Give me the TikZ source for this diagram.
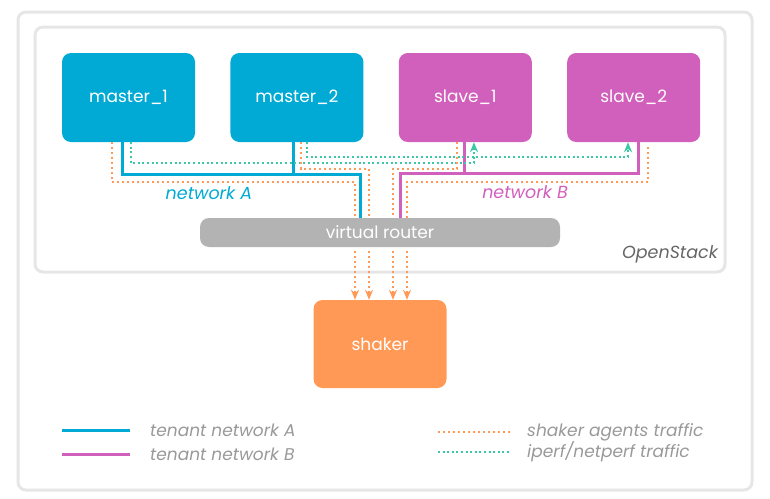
\documentclass[tikz,border=0pt]{standalone}
\usepackage{fontspec}
\setmainfont{Poppins}
\usepackage{tikz}
\usetikzlibrary{
    arrows.meta,    % arrow tips
    positioning     % relative placement
}

\definecolor{netblue}{HTML}{00AAD4}
\definecolor{netpink}{HTML}{D15FBC}
\definecolor{agentorange}{HTML}{FF9955}
\definecolor{iperfteal}{HTML}{3CC8A5}
\definecolor{framegray}{HTML}{E6E6E6}
\definecolor{routergray}{HTML}{B3B3B3}
\definecolor{legendgray}{HTML}{999999}
\definecolor{stackgray}{HTML}{666666}

\begin{document}
\begin{tikzpicture}[
    x=1pt, y=-1pt,
    >={Stealth[length=10pt,width=8pt]},
    vm/.style={minimum width=133pt, minimum height=89pt, rounded corners=9pt,
        inner sep=0pt, text=white, font=\fontsize{17}{20}\selectfont},
    netA/.style={netblue, line width=3pt},
    netB/.style={netpink, line width=3pt},
    agent/.style={agentorange, line width=2pt, dash pattern=on 2pt off 3pt},
    iperf/.style={iperfteal, line width=2pt, dash pattern=on 2pt off 2.6pt},
    legendtext/.style={anchor=west, inner sep=0pt, text=legendgray,
        font=\fontsize{17}{20}\selectfont\itshape},
    netlabel/.style={font=\fontsize{17.5}{20}\selectfont\itshape, inner sep=0pt}
]
    \useasboundingbox (0,0) rectangle (770,498);

    % rahmen
    \draw[framegray, line width=3pt, rounded corners=8pt] (18,12) rectangle (752,490);
    \draw[framegray, line width=3pt, rounded corners=8pt] (35,27) rectangle (725,272);
    \node[anchor=east, inner sep=0pt, text=stackgray,
        font=\fontsize{17.5}{20}\selectfont\itshape] (stack) at (718,254) {OpenStack};

    % VMs
    \node[vm, fill=netblue] (m1) at (128.5,97.5) {master\_1};
    \node[vm, fill=netblue, right=35pt of m1] (m2) {master\_2};
    \node[vm, fill=netpink, right=35pt of m2] (s1) {slave\_1};
    \node[vm, fill=netpink, right=35pt of s1] (s2) {slave\_2};

    % router und shaker
    \node[fill=routergray, rounded corners=9pt, minimum width=360pt, minimum height=29pt,
        inner sep=0pt, text=white, font=\fontsize{17}{20}\selectfont] (router) at (380,232.5) {virtual router};
    \node[vm, fill=agentorange, minimum height=88pt] (shaker) at (380,344) {shaker};

    % network A
    \coordinate (a1) at (122,174);
    \coordinate (a2) at (293,174);
    \coordinate (a3) at (360,174);
    \draw[netA] (m1.south -| a1) -- (a1) -- (a3) -- (router.north -| a3);
    \draw[netA] (m2.south -| a2) -- (a2);
    \node[netlabel, text=netblue] (labA) at (209,193) {network A};

    % network B
    \coordinate (b1) at (400,173);
    \coordinate (b2) at (464,173);
    \coordinate (b3) at (638,173);
    \draw[netB] (router.north -| b1) -- (b1) -- (b3) -- (s2.south -| b3);
    \draw[netB] (s1.south -| b2) -- (b2);
    \node[netlabel, text=netpink] (labB) at (525,192) {network B};

    % iperf verkehr
    \coordinate (t1) at (131,163);
    \coordinate (t1r) at (474,163);
    \coordinate (t2) at (307,157);
    \coordinate (t2r) at (628,157);
    \draw[iperf, ->] (m1.south -| t1) -- (t1) -- (t1r) -- (s1.south -| t1r);
    \draw[iperf, ->] (m2.south -| t2) -- (t2) -- (t2r) -- (s2.south -| t2r);

    % shaker agents
    \coordinate (o1) at (112,182);
    \coordinate (o1r) at (355,182);
    \coordinate (o2) at (301,169);
    \coordinate (o2r) at (369,169);
    \coordinate (o3) at (457,169);
    \coordinate (o3r) at (393,169);
    \coordinate (o4) at (648,182);
    \coordinate (o4r) at (407,182);
    \draw[agent] (m1.south -| o1) -- (o1) -- (o1r) -- (router.north -| o1r);
    \draw[agent] (m2.south -| o2) -- (o2) -- (o2r) -- (router.north -| o2r);
    \draw[agent] (s1.south -| o3) -- (o3) -- (o3r) -- (router.north -| o3r);
    \draw[agent, shorten <=5pt] (s2.south -| o4) -- (o4) -- (o4r) -- (router.north -| o4r);
    \foreach \c in {o1r,o2r,o3r,o4r}
        \draw[agent, ->, shorten <=4pt] (router.south -| \c) -- (shaker.north -| \c);

    % legende
    \node[legendtext] (legA) at (150,430) {tenant network A};
    \node[legendtext] (legB) at (150,454) {tenant network B};
    \node[legendtext] (legS) at (527,432) {shaker agents traffic};
    \node[legendtext] (legI) at (527,452) {iperf/netperf traffic};
    \draw[netA] ([xshift=-88pt]legA.west) -- ([xshift=-20pt]legA.west);
    \draw[netB] ([xshift=-88pt]legB.west) -- ([xshift=-20pt]legB.west);
    \draw[agent] ([xshift=-89pt]legS.west) -- ([xshift=-17pt]legS.west);
    \draw[iperf] ([xshift=-89pt]legI.west) -- ([xshift=-17pt]legI.west);
\end{tikzpicture}
\end{document}
